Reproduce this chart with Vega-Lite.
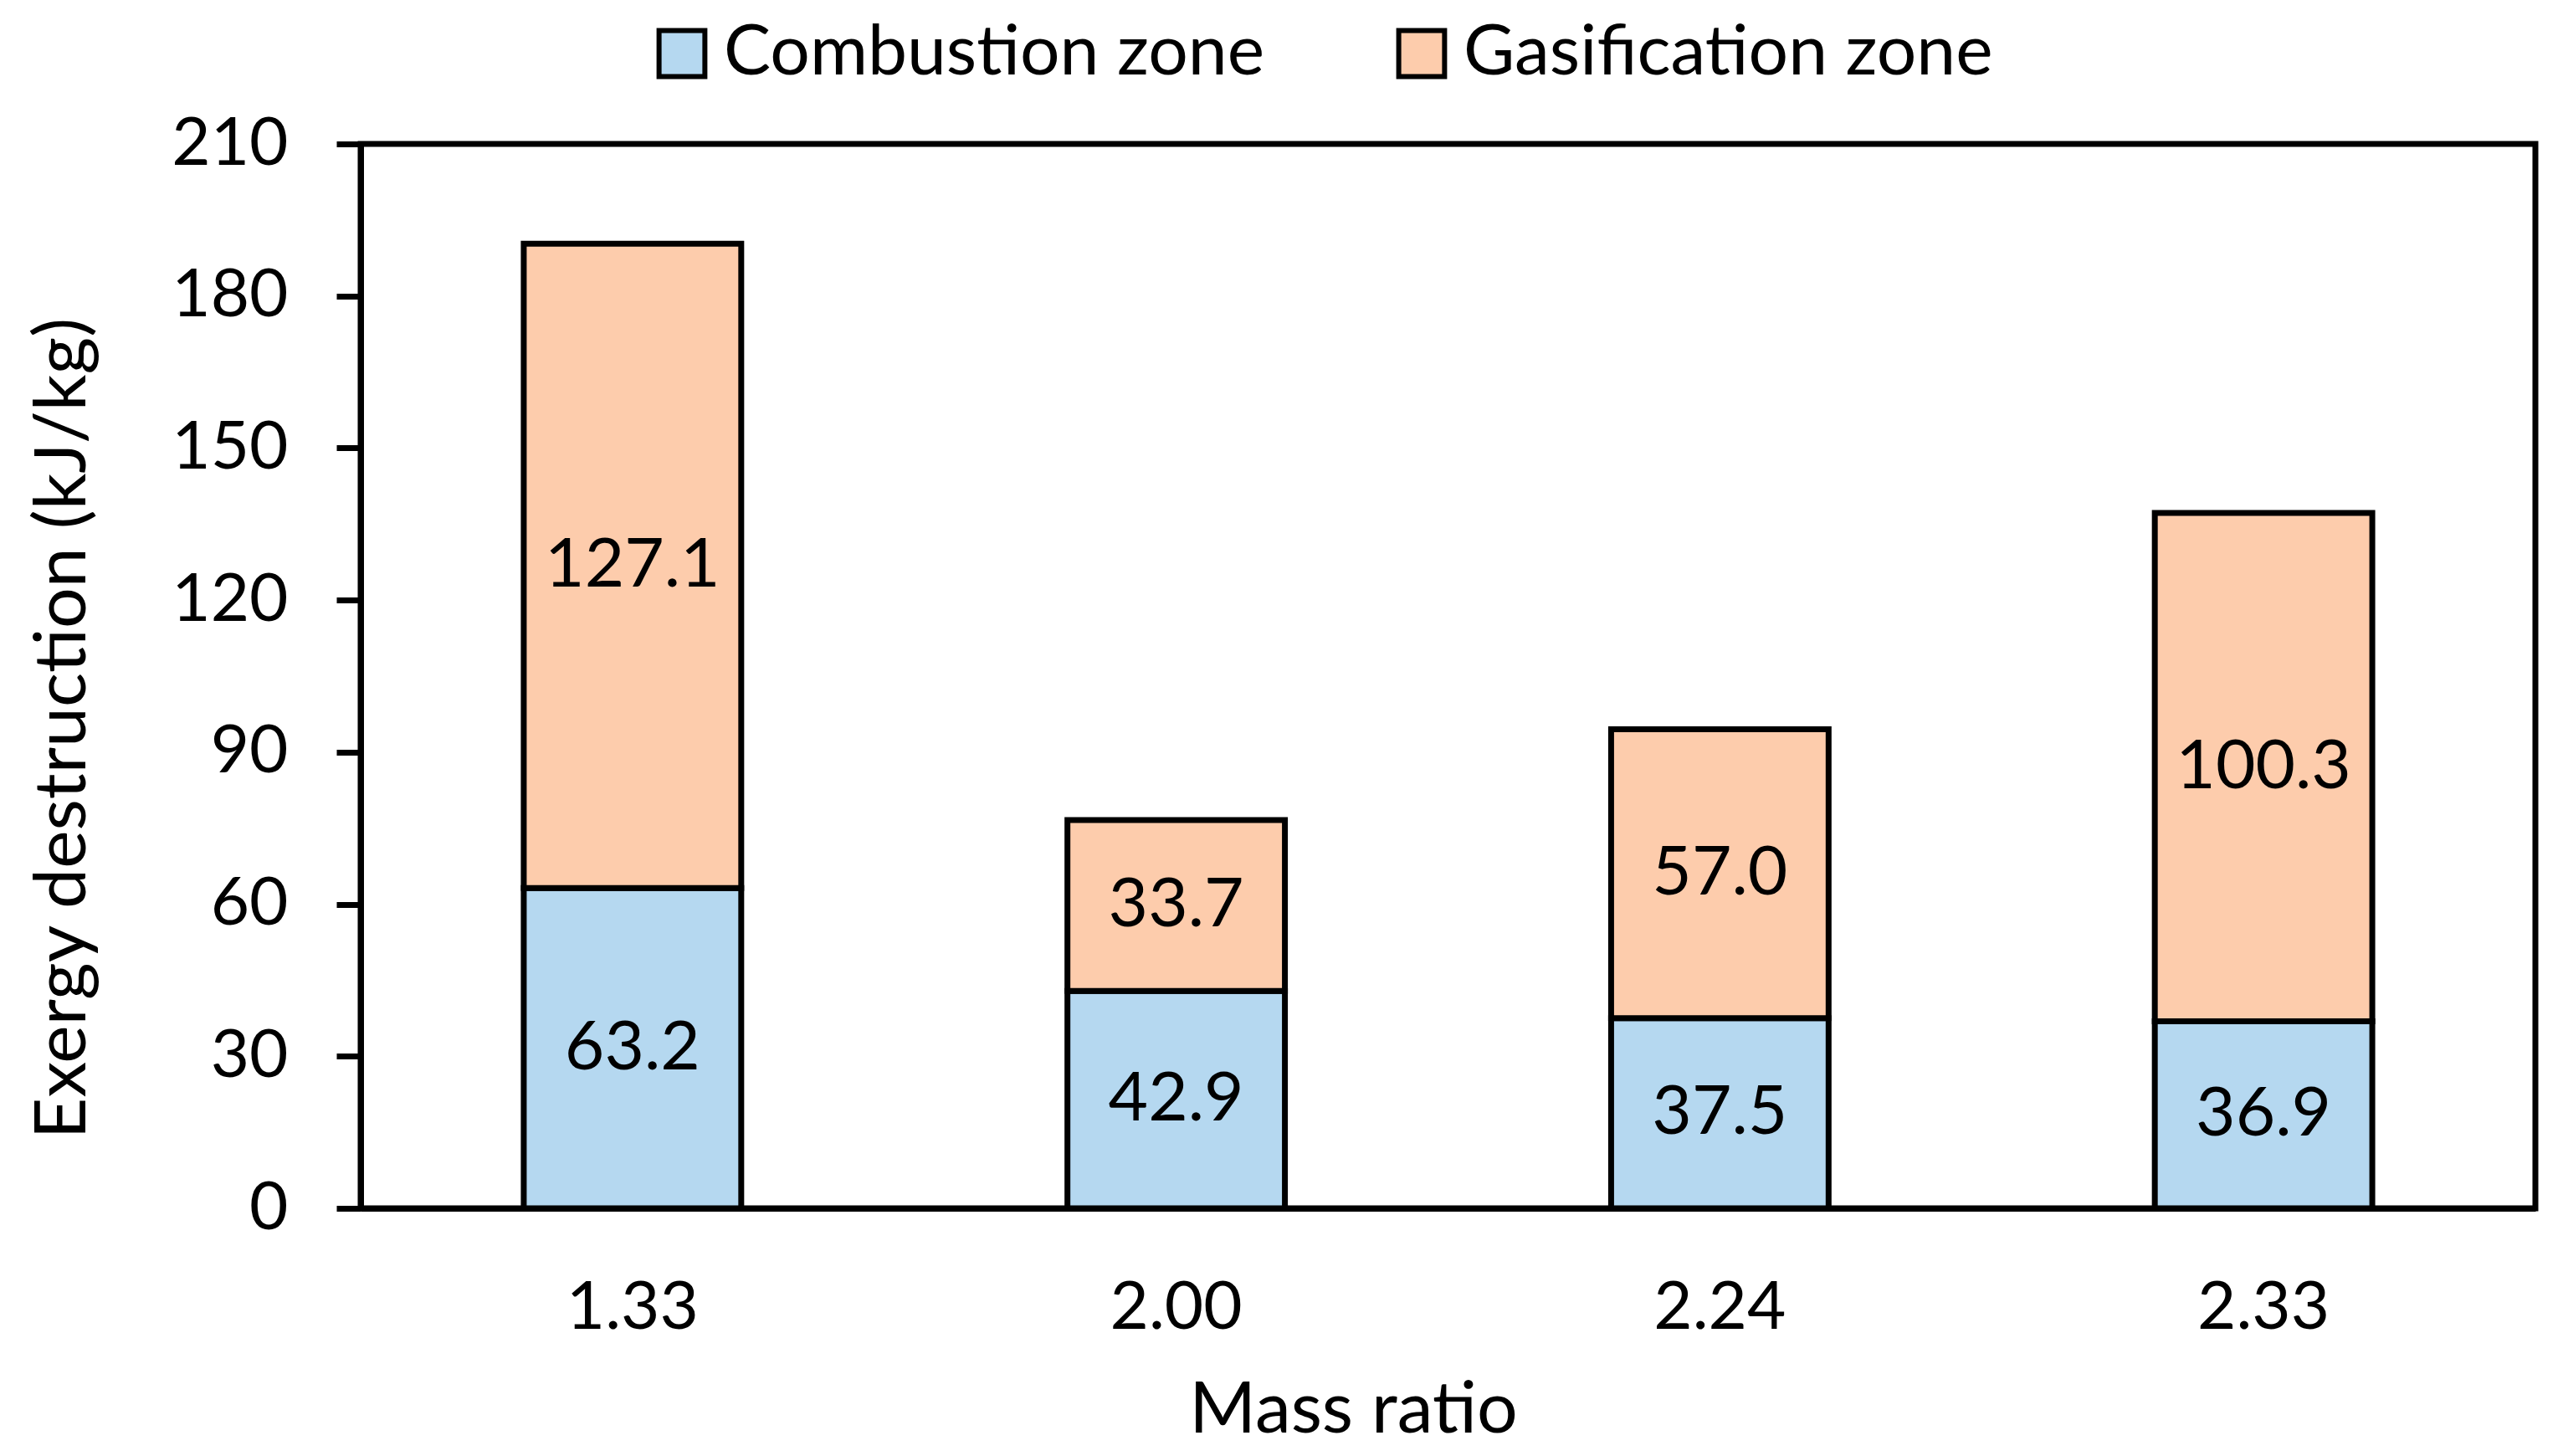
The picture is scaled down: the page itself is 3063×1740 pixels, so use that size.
{
  "$schema": "https://vega.github.io/schema/vega-lite/v6.json",
  "autosize": {"type": "none"},
  "padding": {"left": 431, "top": 172, "right": 33, "bottom": 298},
  "width": 2599,
  "height": 1272,
  "background": "white",
  "data": {
    "values": [
      {"ratio": "1.33", "zone": "Combustion zone", "idx": 1, "value": 63.2},
      {"ratio": "1.33", "zone": "Gasification zone", "idx": 2, "value": 127.1},
      {"ratio": "2.00", "zone": "Combustion zone", "idx": 1, "value": 42.9},
      {"ratio": "2.00", "zone": "Gasification zone", "idx": 2, "value": 33.7},
      {"ratio": "2.24", "zone": "Combustion zone", "idx": 1, "value": 37.5},
      {"ratio": "2.24", "zone": "Gasification zone", "idx": 2, "value": 57.0},
      {"ratio": "2.33", "zone": "Combustion zone", "idx": 1, "value": 36.9},
      {"ratio": "2.33", "zone": "Gasification zone", "idx": 2, "value": 100.3}
    ]
  },
  "encoding": {
    "x": {
      "field": "ratio",
      "type": "nominal",
      "scale": {"paddingInner": 0.6, "paddingOuter": 0.3},
      "axis": {
        "title": "Mass ratio",
        "labelAngle": 0,
        "ticks": false,
        "labelPadding": 80,
        "titlePadding": 40,
        "titleX": 1186,
        "titleAlign": "center",
        "titleFontSize": 86,
        "domainColor": "black",
        "domainWidth": 7
      }
    },
    "order": {"field": "idx", "type": "quantitative"}
  },
  "layer": [
    {
      "mark": {"type": "bar", "stroke": "black", "strokeWidth": 7},
      "encoding": {
        "y": {
          "field": "value",
          "type": "quantitative",
          "stack": "zero",
          "scale": {"domain": [0, 210], "nice": false},
          "axis": {
            "title": "Exergy destruction (kJ/kg)",
            "values": [0, 30, 60, 90, 120, 150, 180, 210],
            "grid": false,
            "tickSize": 29,
            "tickWidth": 7,
            "tickColor": "black",
            "domainColor": "black",
            "domainWidth": 7,
            "labelPadding": 58,
            "titlePadding": 112,
            "titleY": 698,
            "titleFontSize": 86
          }
        },
        "color": {
          "field": "zone",
          "type": "nominal",
          "scale": {"domain": ["Combustion zone", "Gasification zone"], "range": ["#B5D8F0", "#FDCCAC"]},
          "legend": {
            "title": null,
            "orient": "none",
            "direction": "horizontal",
            "legendX": 342,
            "legendY": -150,
            "symbolType": "square",
            "symbolSize": 3000,
            "symbolStrokeColor": "black",
            "symbolStrokeWidth": 6,
            "labelOffset": 8,
            "labelLimit": 2000,
            "columnPadding": 145,
            "labelFontSize": 84,
            "labelFont": "Lato",
            "labelColor": "black"
          }
        }
      }
    },
    {
      "mark": {"type": "text", "font": "Lato", "fontSize": 82, "color": "black", "baseline": "middle"},
      "encoding": {
        "y": {"field": "value", "type": "quantitative", "stack": "zero", "bandPosition": 0.5},
        "text": {"field": "value", "type": "quantitative", "format": ".1f"},
        "detail": {"field": "zone", "type": "nominal"}
      }
    }
  ],
  "config": {
    "view": {"stroke": "black", "strokeWidth": 7},
    "axis": {
      "labelFont": "Lato",
      "labelFontSize": 80,
      "labelColor": "black",
      "titleFont": "Lato",
      "titleFontSize": 80,
      "titleFontWeight": "normal",
      "titleColor": "black"
    }
  }
}
